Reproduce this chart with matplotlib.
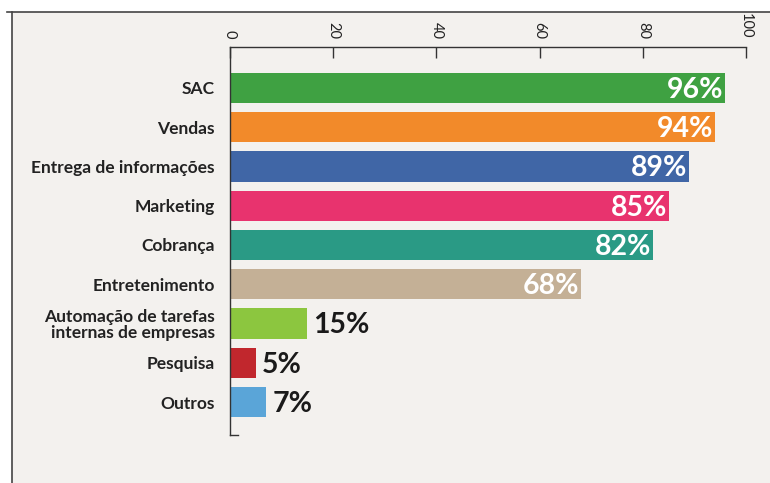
import matplotlib
matplotlib.use("Agg")
import matplotlib.pyplot as plt
from matplotlib.patches import Rectangle
from matplotlib.lines import Line2D

categories = ["SAC", "Vendas", "Entrega de informações", "Marketing", "Cobrança",
              "Entretenimento", "Automação de tarefas\ninternas de empresas", "Pesquisa", "Outros"]
values = [96, 94, 89, 85, 82, 68, 15, 5, 7]
colors = ["#3fa142", "#f28a2a", "#4066a6", "#e8336e", "#2a9a85",
          "#c4b096", "#8cc63f", "#c1272d", "#5aa5d8"]
xticks = [0, 20, 40, 60, 80, 100]

plt.rcParams['font.family'] = ['Lato', 'DejaVu Sans']

W, H = 770, 483
fig = plt.figure(figsize=(W/100, H/100), dpi=100)
fig.patch.set_facecolor("white")

# background panel with frame
bg = "#f3f1ee"
fig.patches.append(Rectangle((12/W, 0), 1 - 12/W, 1 - 12/H, transform=fig.transFigure,
                             facecolor=bg, edgecolor="none", zorder=-10))
fig.lines.append(Line2D([7/W, 1], [1 - 12/H, 1 - 12/H], transform=fig.transFigure,
                        color="#444444", lw=1.2, zorder=-5))
fig.lines.append(Line2D([12/W, 12/W], [0, 1 - 12/H], transform=fig.transFigure,
                        color="#444444", lw=1.2, zorder=-5))

ax = fig.add_axes([230/W, 1 - 435/H, (746 - 230)/W, (435 - 47)/H])
ax.set_zorder(5)
ax.set_facecolor("none")

ypos = list(range(len(categories)))
ax.barh(ypos, values, height=0.77, color=colors)
ax.set_xlim(0, 100)
ax.set_ylim(8.84, -1.04)

for y, v in zip(ypos, values):
    if v >= 50:
        ax.text(v - 0.3, y + 0.05, f"{v}%", ha="right", va="center", color="white",
                fontsize=20.5, fontweight="bold")
    else:
        ax.text(v + 1.2, y + 0.05, f"{v}%", ha="left", va="center", color="#1a1a1a",
                fontsize=20.5, fontweight="bold")

ax.set_yticks(ypos)
ax.set_yticklabels(categories, fontsize=12.5, fontweight="bold", color="#222222",
                   linespacing=1.0)
ax.tick_params(axis="y", length=0, pad=11)

ax.xaxis.tick_top()
ax.set_xticks(xticks)
ax.set_xticklabels([str(t) for t in xticks], rotation=-90, fontsize=10.5, color="#222222")
ax.tick_params(axis="x", direction="in", length=8, width=1, color="#333333", pad=6)

for s in ["right", "bottom"]:
    ax.spines[s].set_visible(False)
ax.spines["top"].set_color("#333333")
ax.spines["left"].set_color("#333333")
ax.spines["top"].set_linewidth(1)
ax.spines["left"].set_linewidth(1)

# small end tick at bottom of left axis
ax.plot([0, 1.6], [8.84, 8.84], color="#333333", lw=1, clip_on=False)

fig.savefig("out.png", dpi=100, facecolor=fig.get_facecolor())
